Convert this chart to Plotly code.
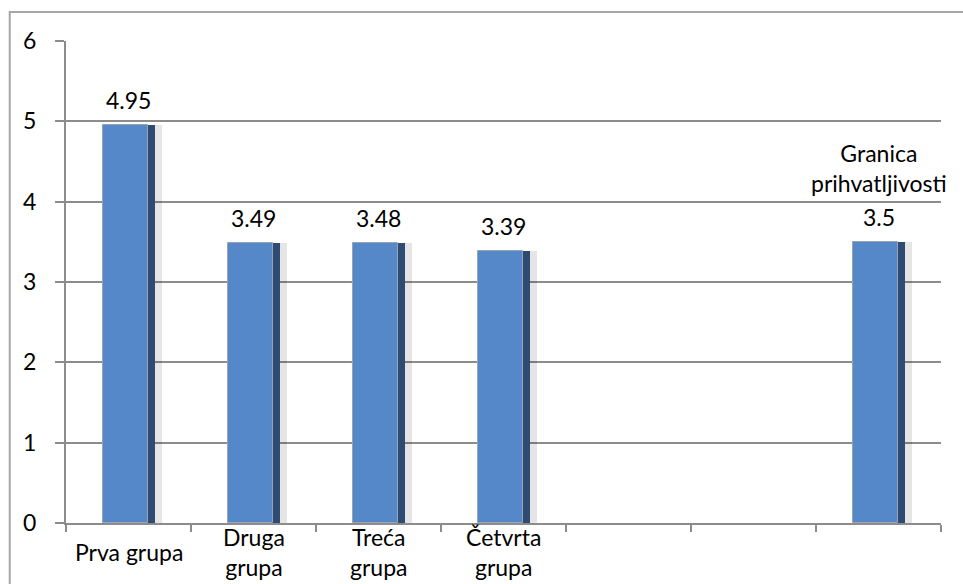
import plotly.graph_objects as go

# Category order along the x axis (two empty slots before the threshold bar)
categories = ["Prva grupa", "Druga grupa", "Treća grupa", "Četvrta grupa", "", "", "Granica prihvatljivosti"]
axis_labels = ["Prva grupa", "Druga<br>grupa", "Treća<br>grupa", "Četvrta<br>grupa", "", "", ""]
values = [4.95, 3.49, 3.48, 3.39, None, None, 3.5]
y_ticks = [0, 1, 2, 3, 4, 5, 6]

FONT = "Lato"
FS = 23
x_pos = list(range(len(categories)))

fig = go.Figure()

# soft drop shadow behind each bar
fig.add_trace(go.Bar(
    x=x_pos, y=values, width=0.46, offset=-0.19,
    marker=dict(color="rgba(0,0,0,0.10)", line=dict(width=0)),
    hoverinfo="skip", showlegend=False,
))
# dark bevel edge
fig.add_trace(go.Bar(
    x=x_pos, y=values, width=0.416, offset=-0.208,
    marker=dict(color="#2E4B73", line=dict(width=0)),
    hoverinfo="skip", showlegend=False,
))
# bar face
fig.add_trace(go.Bar(
    x=x_pos, y=values, width=0.36, offset=-0.208,
    marker=dict(color="#5588C8", line=dict(color="#9AA3AE", width=1)),
    showlegend=False,
))

annotations = []
for i, (cat, v) in enumerate(zip(categories, values)):
    if v is None:
        continue
    annotations.append(dict(
        x=i, y=v, xref="x", yref="y", text=f"{v:g}", showarrow=False,
        yanchor="middle", yshift=25, font=dict(family=FONT, size=FS, color="#000"),
    ))
# threshold bar carries its category name above the value
annotations.append(dict(
    x=6, y=values[6], xref="x", yref="y", text="Granica<br>prihvatljivosti",
    showarrow=False, yanchor="bottom", yshift=43,
    font=dict(family=FONT, size=FS, color="#000"),
))
# category labels below the axis, vertically centred
for i, lab in enumerate(axis_labels):
    if not lab:
        continue
    annotations.append(dict(
        x=i, y=0, xref="x", yref="paper", text=lab, showarrow=False,
        yanchor="middle", yshift=-29, font=dict(family=FONT, size=FS, color="#000"),
    ))

fig.update_layout(
    width=963, height=584,
    margin=dict(l=66, r=22, t=41, b=61),
    paper_bgcolor="white", plot_bgcolor="white",
    barmode="overlay", bargap=0,
    font=dict(family=FONT, size=FS, color="#000"),
    annotations=annotations,
    shapes=[dict(
        type="rect", xref="paper", yref="paper",
        x0=-0.0643, x1=1.05, y0=-0.2, y1=1.0602,
        line=dict(color="#A6A6A6", width=2), fillcolor="rgba(0,0,0,0)", layer="below",
    )],
    xaxis=dict(
        range=[-0.5, 6.5], tickmode="linear", tick0=-0.5, dtick=1,
        showticklabels=False, ticks="outside", ticklen=7, tickcolor="#8C8C8C", tickwidth=2,
        showgrid=False, showline=True, linecolor="#8C8C8C", linewidth=2, zeroline=False,
    ),
    yaxis=dict(
        range=[0, 6], tickvals=y_ticks, ticks="outside", ticklen=9,
        tickcolor="#8C8C8C", tickwidth=2, ticklabelstandoff=14,
        showgrid=True, gridcolor="#8C8C8C", gridwidth=2,
        showline=True, linecolor="#8C8C8C", linewidth=2, zeroline=False,
        tickfont=dict(family=FONT, size=FS, color="#000"),
    ),
)

fig.write_html("out.html")
